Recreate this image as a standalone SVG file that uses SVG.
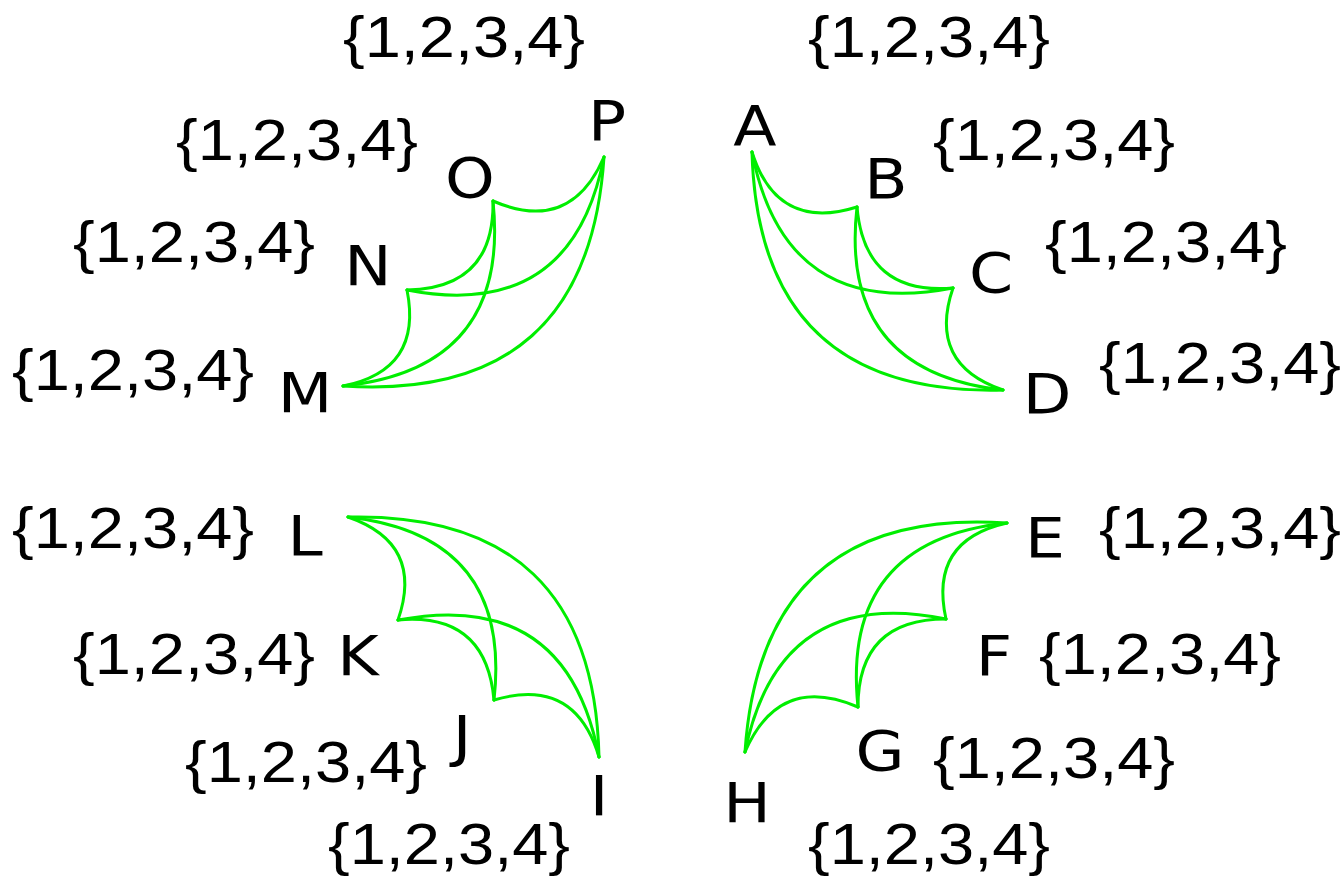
<svg xmlns="http://www.w3.org/2000/svg" width="1342" height="878" viewBox="0 0 1342 878">
<style>
.e{fill:none;stroke:#00ee00;stroke-width:3;stroke-linecap:round}
.n{font-family:"DejaVu Sans",sans-serif;font-size:55px;fill:#000;text-anchor:middle}
.s{font-family:"Liberation Sans",Arial,sans-serif;font-size:58px;fill:#000}
</style>
<rect width="1342" height="878" fill="#fff"/>
<g id="connectors">
<path class="e" d="M752,152 Q777,232 857,207"/>
<path class="e" d="M752,152 Q784.5,320.5 953,288"/>
<path class="e" d="M752,152 Q758.5,396.5 1003,390"/>
<path class="e" d="M857,207 Q864.5,295.5 953,288"/>
<path class="e" d="M857,207 Q838.5,371.5 1003,390"/>
<path class="e" d="M953,288 Q927,364 1003,390"/>
<path class="e" d="M343,386 Q423,370 407,290"/>
<path class="e" d="M343,386 Q510.5,368.5 493,201"/>
<path class="e" d="M343,386 Q588,402 604,157"/>
<path class="e" d="M407,290 Q494.5,288.5 493,201"/>
<path class="e" d="M407,290 Q572,322 604,157"/>
<path class="e" d="M493,201 Q570.5,234.5 604,157"/>
<path class="e" d="M599,757 Q575,676 494,700"/>
<path class="e" d="M599,757 Q567,588 398,620"/>
<path class="e" d="M599,757 Q593.5,511.5 348,517"/>
<path class="e" d="M494,700 Q486,612 398,620"/>
<path class="e" d="M494,700 Q512.5,535.5 348,517"/>
<path class="e" d="M398,620 Q424.5,543.5 348,517"/>
<path class="e" d="M1007,523 Q928.5,540.5 946,619"/>
<path class="e" d="M1007,523 Q840.5,540.5 858,707"/>
<path class="e" d="M1007,523 Q761.5,506.5 745,752"/>
<path class="e" d="M946,619 Q858,619 858,707"/>
<path class="e" d="M946,619 Q779,585 745,752"/>
<path class="e" d="M858,707 Q779,673 745,752"/>
</g>
<g id="A"><text class="n" transform="translate(755,145) scale(1.15 1)">A</text><text class="s" transform="translate(808,57) scale(1.12 1)">{1,2,3,4}</text></g>
<g id="B"><text class="n" transform="translate(886,198) scale(1.15 1)">B</text><text class="s" transform="translate(933,160) scale(1.12 1)">{1,2,3,4}</text></g>
<g id="C"><text class="n" transform="translate(991,292) scale(1.15 1)">C</text><text class="s" transform="translate(1045,262) scale(1.12 1)">{1,2,3,4}</text></g>
<g id="D"><text class="n" transform="translate(1047,413) scale(1.15 1)">D</text><text class="s" transform="translate(1099,383) scale(1.12 1)">{1,2,3,4}</text></g>
<g id="E"><text class="n" transform="translate(1045,557) scale(1.15 1)">E</text><text class="s" transform="translate(1099,548) scale(1.12 1)">{1,2,3,4}</text></g>
<g id="F"><text class="n" transform="translate(994,675) scale(1.15 1)">F</text><text class="s" transform="translate(1039,674) scale(1.12 1)">{1,2,3,4}</text></g>
<g id="G"><text class="n" transform="translate(880,770) scale(1.15 1)">G</text><text class="s" transform="translate(933,778) scale(1.12 1)">{1,2,3,4}</text></g>
<g id="H"><text class="n" transform="translate(747,822) scale(1.15 1)">H</text><text class="s" transform="translate(808,864) scale(1.12 1)">{1,2,3,4}</text></g>
<g id="I"><text class="n" transform="translate(599,815) scale(1.15 1)">I</text><text class="s" transform="translate(328,864) scale(1.12 1)">{1,2,3,4}</text></g>
<g id="J"><text class="n" transform="translate(462,755) scale(1.15 1)">J</text><text class="s" transform="translate(185,782) scale(1.12 1)">{1,2,3,4}</text></g>
<g id="K"><text class="n" transform="translate(358,675) scale(1.15 1)">K</text><text class="s" transform="translate(73,674) scale(1.12 1)">{1,2,3,4}</text></g>
<g id="L"><text class="n" transform="translate(305,555) scale(1.15 1)">L</text><text class="s" transform="translate(12,548) scale(1.12 1)">{1,2,3,4}</text></g>
<g id="M"><text class="n" transform="translate(305,412) scale(1.15 1)">M</text><text class="s" transform="translate(12,390) scale(1.12 1)">{1,2,3,4}</text></g>
<g id="N"><text class="n" transform="translate(368,285) scale(1.15 1)">N</text><text class="s" transform="translate(73,262) scale(1.12 1)">{1,2,3,4}</text></g>
<g id="O"><text class="n" transform="translate(470,197) scale(1.15 1)">O</text><text class="s" transform="translate(176,160) scale(1.12 1)">{1,2,3,4}</text></g>
<g id="P"><text class="n" transform="translate(607,140) scale(1.15 1)">P</text><text class="s" transform="translate(343,57) scale(1.12 1)">{1,2,3,4}</text></g>
</svg>
